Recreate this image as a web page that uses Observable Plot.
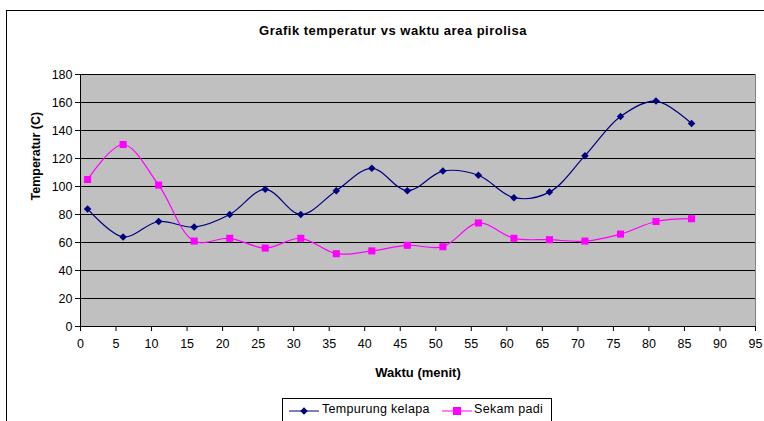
<!DOCTYPE html>
<html><head><meta charset="utf-8">
<script src="https://cdn.jsdelivr.net/npm/d3@7"></script>
<script src="https://cdn.jsdelivr.net/npm/@observablehq/plot@0.6"></script>
<style>
body{margin:0;background:#fff;font-family:"Liberation Sans",Arial,sans-serif;}
#wrap{position:relative;width:764px;height:421px;overflow:hidden;}
#border{position:absolute;left:6px;top:10px;width:800px;height:450px;border:1px solid #000;box-sizing:border-box;}
#title{position:absolute;left:0;width:786px;top:23px;text-align:center;font-weight:bold;font-size:13px;letter-spacing:0.5px;}
#legend{position:absolute;left:282px;top:398px;width:270px;height:30px;border:1px solid #000;box-sizing:border-box;font-size:12.5px;letter-spacing:0.3px;}
#legend span{position:absolute;top:3px;}
#chart{position:absolute;left:0;top:0;}
</style></head><body>
<div id="wrap">
<div id="border"></div>
<div id="chart"></div>
<div id="title">Grafik temperatur vs waktu area pirolisa</div>
<div id="legend"></div>
</div>
<script>
const waktu = [1,6,11,16,21,26,31,36,41,46,51,56,61,66,71,76,81,86];
const tempurung = [84,64,75,71,80,98,80,97,113,97,111,108,92,96,122,150,161,145];
const sekam = [105,130,101,61,63,56,63,52,54,58,57,74,63,62,61,66,75,77];
const seriesNames = ["Tempurung kelapa","Sekam padi"];
const colors = ["#000080","#FF00FF"];
const xTicks = d3.range(0,96,5);
const yTicks = d3.range(0,181,20);

const data = [];
waktu.forEach((w,i)=>{
  data.push({x:w,y:tempurung[i],s:seriesNames[0]});
  data.push({x:w,y:sekam[i],s:seriesNames[1]});
});
const d0 = data.filter(d=>d.s===seriesNames[0]);
const d1 = data.filter(d=>d.s===seriesNames[1]);

const chart = Plot.plot({
  width:764, height:421,
  marginLeft:80, marginRight:9, marginTop:74, marginBottom:95,
  style:{fontFamily:"Liberation Sans, Arial, sans-serif", fontSize:"12.5px", background:"transparent", color:"#000"},
  x:{domain:[0,95], label:null},
  y:{domain:[0,180], label:null},
  marks:[
    Plot.frame({fill:"#C0C0C0", stroke:"#808080"}),
    Plot.gridY(yTicks.filter(t=>t>0), {stroke:"#000", strokeOpacity:1, strokeWidth:1}),
    Plot.ruleX([0],{stroke:"#000"}),
    Plot.ruleY([0],{stroke:"#000"}),
    Plot.axisX({ticks:xTicks, tickSize:5, tickPadding:8, stroke:"#000", label:null}),
    Plot.axisY({ticks:yTicks, tickSize:5, tickPadding:3, stroke:"#000", label:null}),
    Plot.line(d0,{x:"x",y:"y",stroke:colors[0],strokeWidth:1.2,curve:"catmull-rom"}),
    Plot.line(d1,{x:"x",y:"y",stroke:colors[1],strokeWidth:1.2,curve:"catmull-rom"}),
    Plot.dot(d0,{x:"x",y:"y",symbol:"diamond2",fill:colors[0],r:3.4}),
    Plot.dot(d1,{x:"x",y:"y",symbol:"square",fill:colors[1],r:4}),
    Plot.text(["Waktu (menit)"],{frameAnchor:"bottom",dy:50,fontWeight:"bold",fontSize:13,dx:0,style:"letter-spacing:0.5px"}),
    Plot.text(["Temperatur (C)"],{frameAnchor:"left",dx:-45,rotate:-90,fontWeight:"bold",fontSize:12.5})
  ]
});
document.getElementById("chart").appendChild(chart);

// legend
const lg = d3.select("#legend");
const svg = lg.append("svg").attr("width",270).attr("height",30).style("position","absolute").style("left",0).style("top",0);
svg.append("line").attr("x1",6).attr("x2",36).attr("y1",12).attr("y2",12).attr("stroke",colors[0]);
svg.append("path").attr("d",d3.symbol(d3.symbolDiamond2,36)()).attr("transform","translate(21,12)").attr("fill",colors[0]);
svg.append("line").attr("x1",159).attr("x2",189).attr("y1",12).attr("y2",12).attr("stroke",colors[1]);
svg.append("rect").attr("x",170).attr("y",8).attr("width",8).attr("height",8).attr("fill",colors[1]);
lg.append("span").style("left","39px").text(seriesNames[0]);
lg.append("span").style("left","191px").text(seriesNames[1]);
</script>
</body></html>
